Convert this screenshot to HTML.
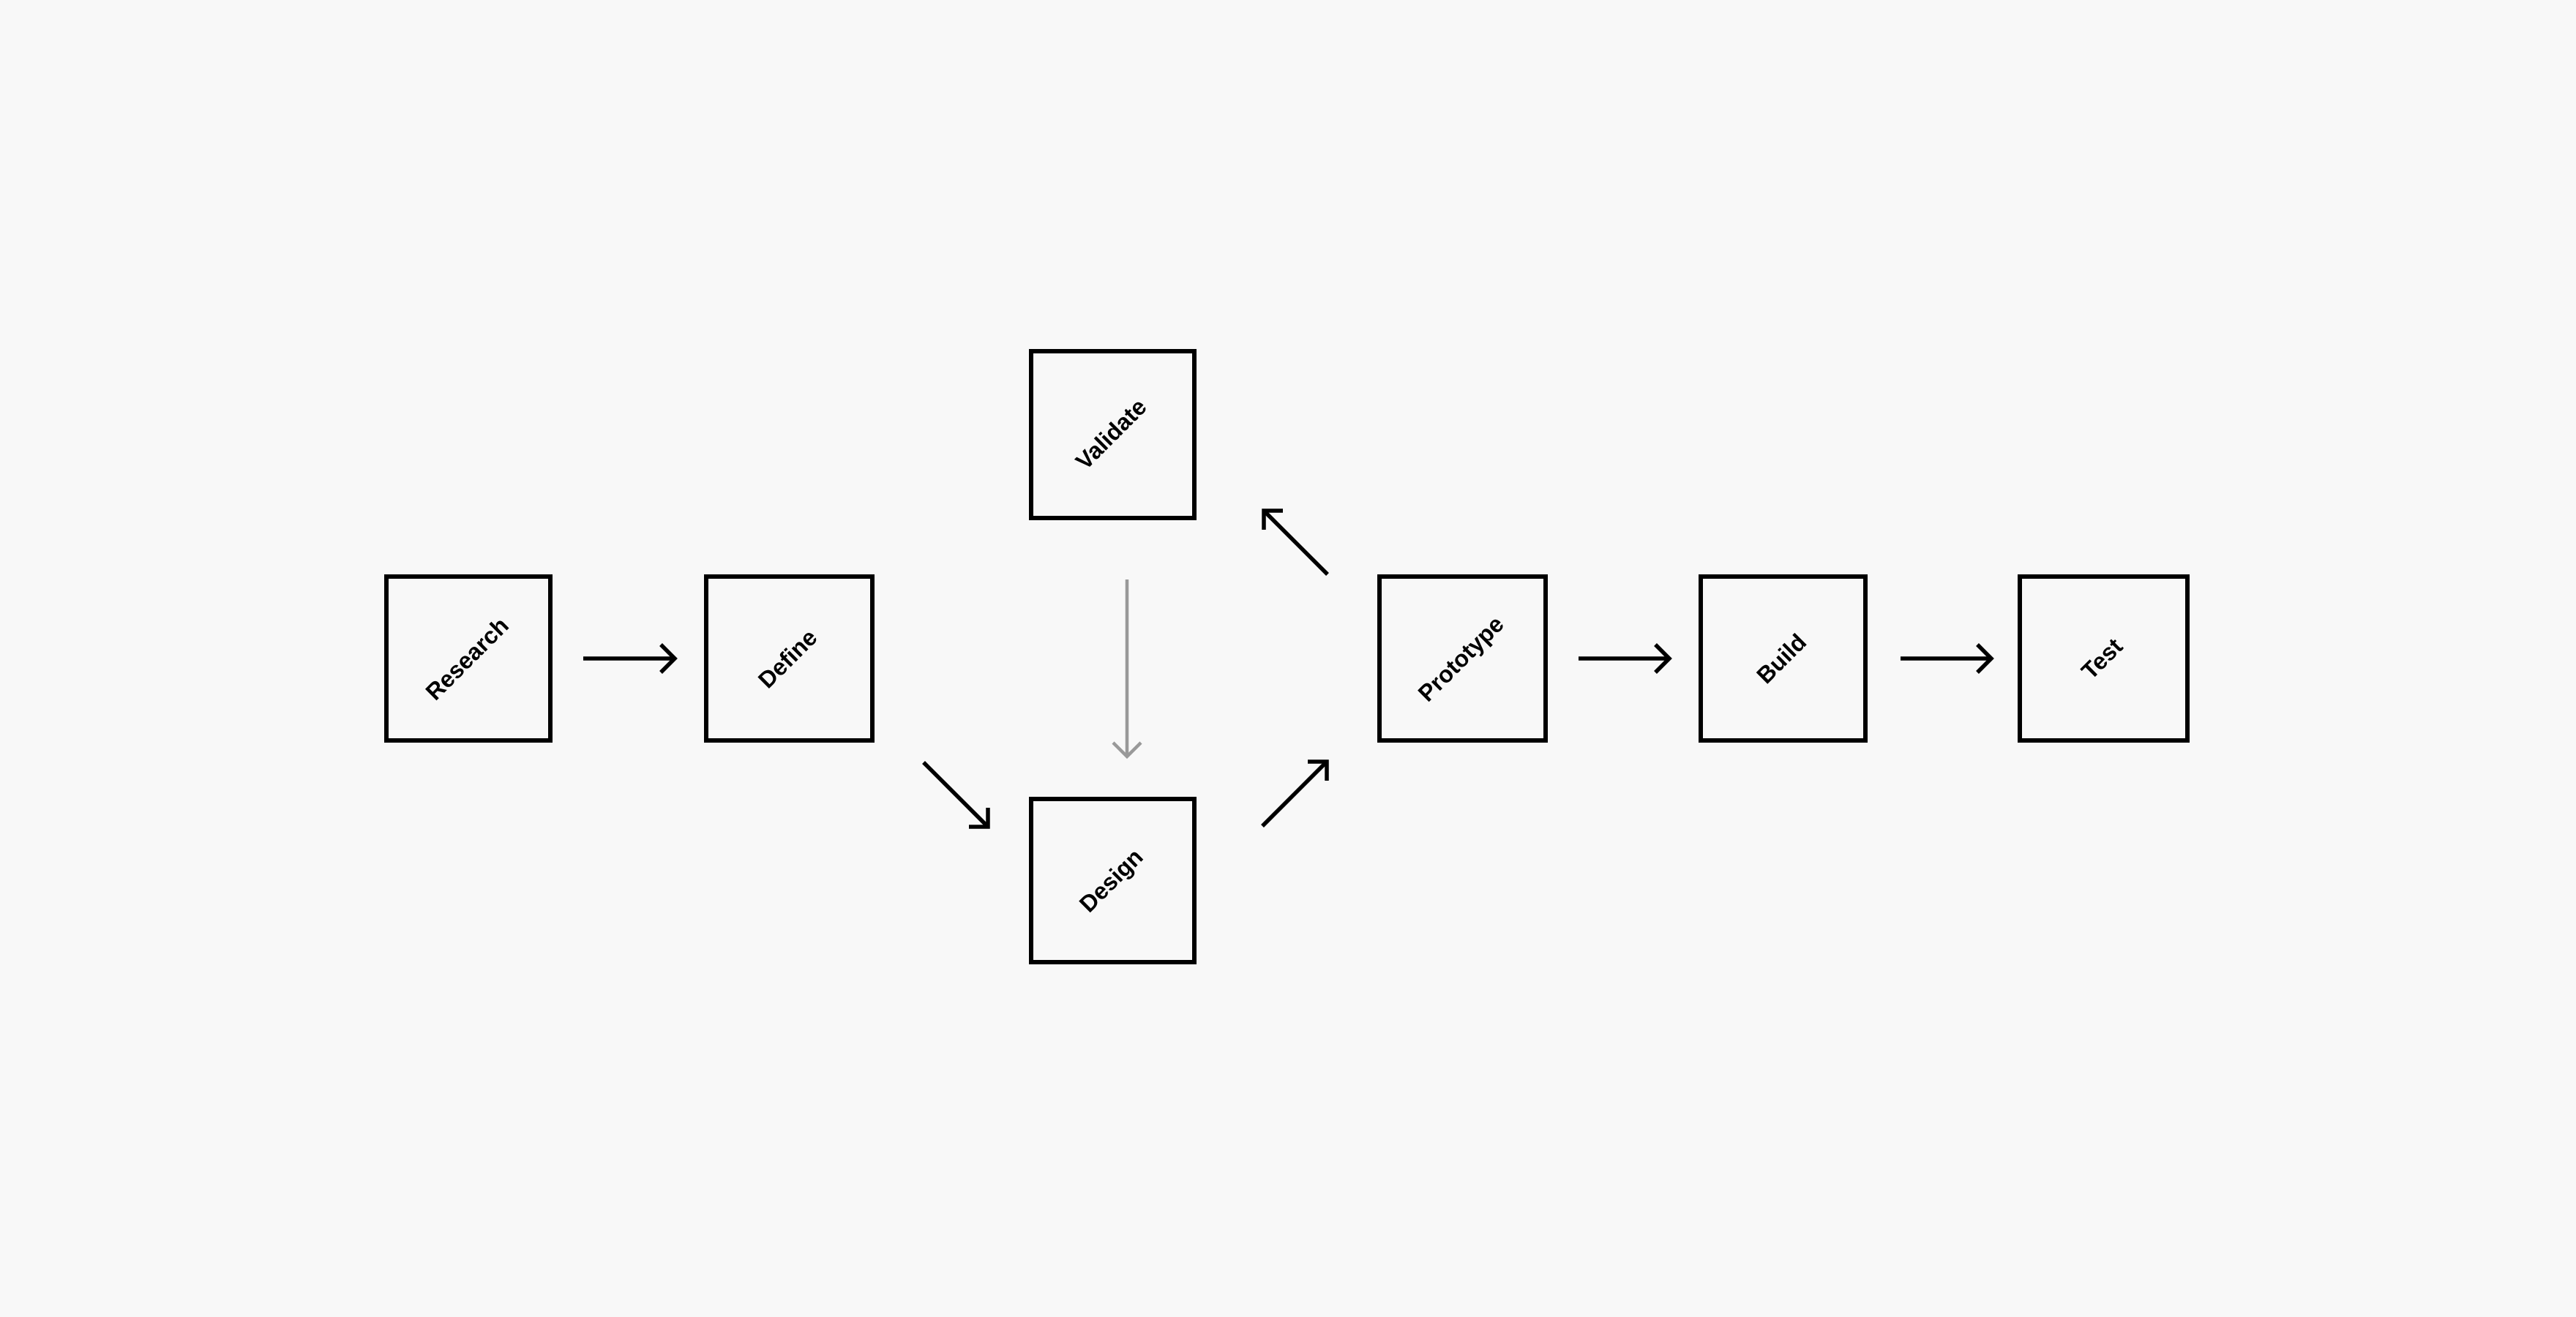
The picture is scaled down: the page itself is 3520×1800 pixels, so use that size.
<!DOCTYPE html>
<html><head><meta charset="utf-8"><style>
html,body{margin:0;padding:0;background:#f8f8f8;}
svg{display:block}
text{font-family:"Liberation Sans",sans-serif;font-weight:bold;font-size:32px;fill:#000;}
</style></head><body>
<svg width="3520" height="1800" viewBox="0 0 3520 1800" xmlns="http://www.w3.org/2000/svg">
<rect width="3520" height="1800" fill="#f8f8f8"/>
<g fill="none" stroke="#000" stroke-width="6">
<rect x="528" y="788" width="224" height="224"/>
<rect x="965" y="788" width="227" height="224"/>
<rect x="1409" y="480" width="223" height="228"/>
<rect x="1409" y="1092" width="223" height="223"/>
<rect x="1885" y="788" width="227" height="224"/>
<rect x="2324" y="788" width="225" height="224"/>
<rect x="2760" y="788" width="229" height="224"/>
</g>
<g fill="none" stroke="#000" stroke-width="5.5" stroke-linecap="butt">
<line x1="797" y1="900" x2="922" y2="900"/><polyline points="903,881 922,900 903,919"/>
<line x1="2157" y1="900" x2="2281" y2="900"/><polyline points="2262,881 2281,900 2262,919"/>
<line x1="2597" y1="900" x2="2721" y2="900"/><polyline points="2702,881 2721,900 2702,919"/>
<line x1="1262" y1="1042" x2="1350" y2="1130"/><polyline points="1350,1104 1350,1130 1324,1130"/>
<line x1="1725" y1="1129" x2="1813" y2="1041"/><polyline points="1787,1041 1813,1041 1813,1067"/>
<line x1="1814" y1="785" x2="1727" y2="698"/><polyline points="1727,724 1727,698 1753,698"/>
</g>
<g fill="none" stroke="#999" stroke-width="4.5">
<line x1="1540" y1="792" x2="1540" y2="1034"/><polyline points="1521,1015 1540,1034 1559,1015"/>
</g>
<text transform="translate(640,902) rotate(-45)" text-anchor="middle" dominant-baseline="middle">Research</text>
<text transform="translate(1078,902) rotate(-45)" text-anchor="middle" dominant-baseline="middle">Define</text>
<text transform="translate(1520,595) rotate(-45)" text-anchor="middle" dominant-baseline="middle">Validate</text>
<text transform="translate(1520,1205) rotate(-45)" text-anchor="middle" dominant-baseline="middle">Design</text>
<text transform="translate(1998,902) rotate(-45)" text-anchor="middle" dominant-baseline="middle">Prototype</text>
<text transform="translate(2436,902) rotate(-45)" text-anchor="middle" dominant-baseline="middle">Build</text>
<text transform="translate(2874,902) rotate(-45)" text-anchor="middle" dominant-baseline="middle">Test</text>
</svg>
</body></html>
